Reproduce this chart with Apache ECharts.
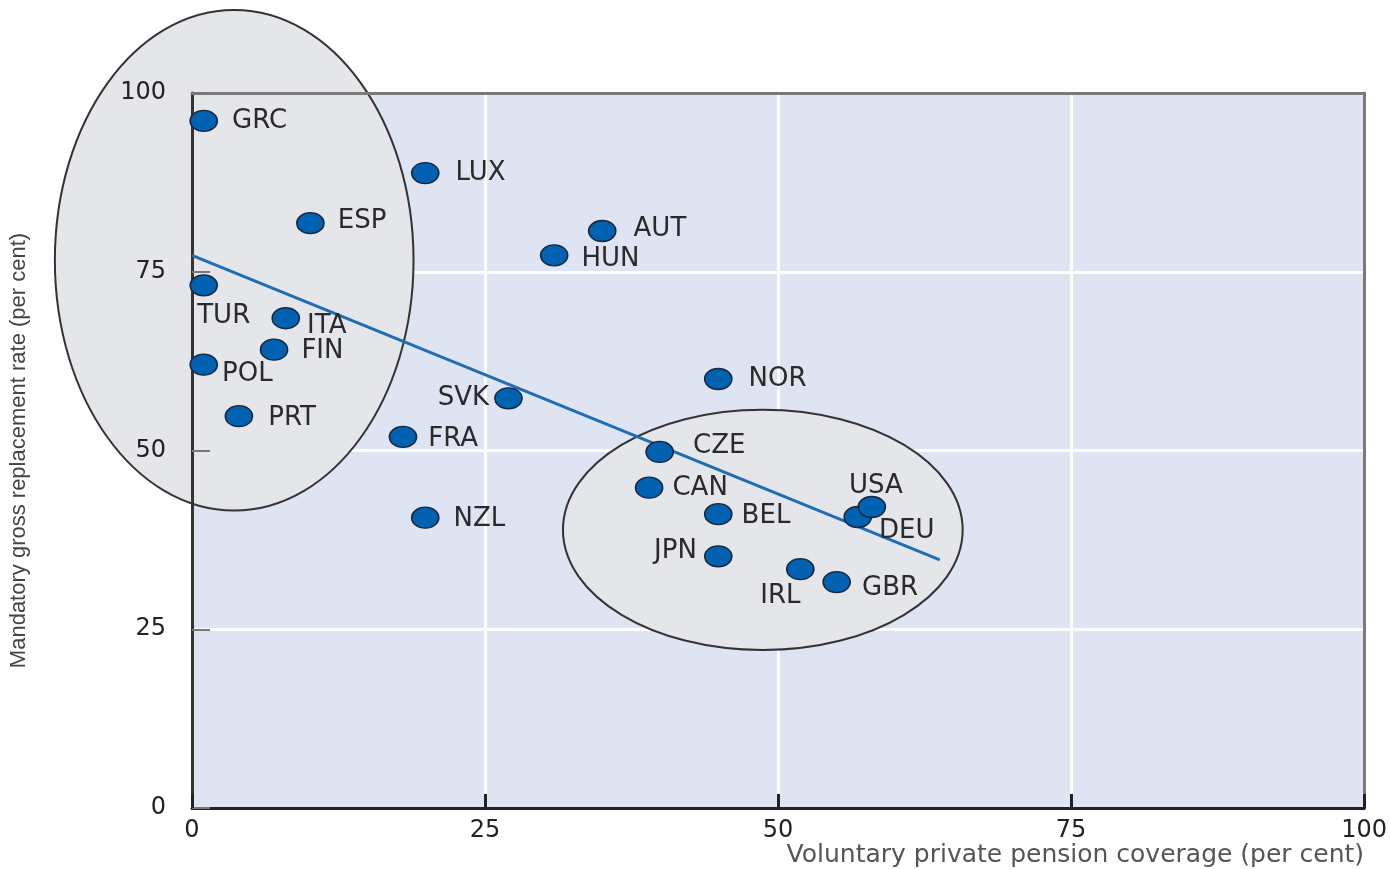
<!DOCTYPE html>
<html>
<head>
<meta charset="utf-8">
<script src="https://cdn.jsdelivr.net/npm/echarts@6/dist/echarts.min.js"></script>
<style>html,body{margin:0;padding:0;background:#fff}#c{width:1390px;height:869px}</style>
</head>
<body>
<div id="c"></div>
<script>
// Data
const countries = ['GRC','LUX','ESP','AUT','HUN','TUR','ITA','FIN','POL','PRT','SVK','FRA','NOR','NZL','CZE','CAN','BEL','JPN','IRL','GBR','DEU','USA'];
const coverage  = [1.0, 19.9, 10.1, 35.0, 30.9, 1.0, 8.0, 7.0, 1.0, 4.0, 27.0, 18.0, 44.9, 19.9, 39.9, 39.0, 44.9, 44.9, 51.9, 55.0, 56.8, 58.0];
const replacement = [96.1, 88.8, 81.8, 80.7, 77.3, 73.1, 68.5, 64.1, 62.0, 54.8, 57.3, 51.9, 60.0, 40.6, 49.8, 44.8, 41.1, 35.2, 33.4, 31.6, 40.7, 42.1];
const trendX = [0, 63.8];
const trendY = [77.3, 34.7];
// ellipses: [centerX, centerY, radiusX, radiusY] in data units
const ellipseLeft  = [3.6, 76.6, 15.3, 35.0];
const ellipseRight = [48.7, 38.9, 17.05, 16.8];
const xTicks = [0, 25, 50, 75, 100];
const yTicks = [0, 25, 50, 75, 100];

// label placement (style only)
const labelPlace = {
  GRC:['right',[9,0]], LUX:['right',[11,0]], ESP:['right',[8,-2]], AUT:['right',[12,-2]],
  HUN:['right',[8,4]], TUR:['bottom',[20,2]], ITA:['right',[2,8]], FIN:['right',[8,2]],
  POL:['right',[-1,10]], PRT:['right',[10,2]], SVK:['left',[0,0]], FRA:['right',[6,2]],
  NOR:['right',[11,0]], NZL:['right',[9,2]], CZE:['right',[14,-6]], CAN:['right',[4,1]],
  BEL:['right',[4,2]], JPN:['left',[-2,-5]], IRL:['bottom',[-20,-2]], GBR:['right',[6,6]],
  DEU:['right',[2,14]], USA:['top',[4,8]]
};

const pts = countries.map((c,i)=>{
  const p = labelPlace[c];
  return {value:[coverage[i], replacement[i]], name:c, label:{position:p[0], offset:p[1]}};
});

const chart = echarts.init(document.getElementById('c'), null, {renderer:'canvas'});
const font = 'DejaVu Sans, Verdana, sans-serif';
const fontNarrow = 'Liberation Sans, Arial, sans-serif';

function ellipseRender(params, api){
  const c = api.coord([api.value(0), api.value(1)]);
  const s = api.size([api.value(2), api.value(3)]);
  return {
    type:'ellipse',
    shape:{cx:c[0], cy:c[1], rx:s[0], ry:s[1]},
    style:{fill:'#e5e6ea', stroke:'#333', lineWidth:2}
  };
}

const hidden = {axisLine:{show:false}, axisTick:{show:false}, axisLabel:{show:false}};

chart.setOption({
  animation:false,
  backgroundColor:'#ffffff',
  grid:{left:192, right:25, top:93, bottom:61, show:true, backgroundColor:'#dfe4f2', borderWidth:0, containLabel:false},
  xAxis:[
    Object.assign({type:'value', min:0, max:100, interval:25, position:'bottom', z:0,
      splitLine:{show:true, lineStyle:{color:'#ffffff', width:3}}}, hidden),
    {type:'value', min:0, max:100, interval:25, position:'bottom', z:5,
      axisLine:{show:true, onZero:false, lineStyle:{color:'#222', width:3}},
      axisTick:{show:true, inside:true, length:14, lineStyle:{color:'#222', width:3}},
      axisLabel:{color:'#222', fontSize:24, fontFamily:font, margin:11, formatter:v=>xTicks.includes(v)?String(v):''},
      splitLine:{show:false},
      name:'Voluntary private pension coverage (per cent)',
      nameLocation:'end', nameGap:0,
      nameTextStyle:{color:'#555', fontSize:25, fontFamily:font, align:'right', verticalAlign:'top', padding:[35,0,0,0]}
    },
    {type:'value', min:0, max:100, interval:25, position:'top', z:5,
      axisLine:{show:true, onZero:false, lineStyle:{color:'#7a7a7a', width:3}},
      axisTick:{show:false}, axisLabel:{show:false}, splitLine:{show:false}}
  ],
  yAxis:[
    Object.assign({type:'value', min:0, max:100, interval:25, position:'left', z:0,
      splitLine:{show:true, lineStyle:{color:'#ffffff', width:3}}}, hidden),
    {type:'value', min:0, max:100, interval:25, position:'left', z:5,
      axisLine:{show:true, onZero:false, lineStyle:{color:'#333', width:3}},
      axisTick:{show:true, inside:true, length:18, lineStyle:{color:'#777', width:2}},
      axisLabel:{color:'#222', fontSize:24, fontFamily:font, margin:26, formatter:v=>yTicks.includes(v)?String(v):''},
      splitLine:{show:false},
      name:'Mandatory gross replacement rate (per cent)',
      nameLocation:'middle', nameGap:162, nameRotate:90,
      nameTextStyle:{color:'#444', fontSize:22, fontFamily:fontNarrow}
    },
    {type:'value', min:0, max:100, interval:25, position:'right', z:5,
      axisLine:{show:true, onZero:false, lineStyle:{color:'#7a7a7a', width:3}},
      axisTick:{show:false}, axisLabel:{show:false}, splitLine:{show:false}}
  ],
  series:[
    {type:'custom', clip:false, renderItem:ellipseRender, data:[ellipseLeft, ellipseRight], z:1, silent:true, xAxisIndex:0, yAxisIndex:0},
    {type:'line', data:trendX.map((x,i)=>[x, trendY[i]]), showSymbol:false, lineStyle:{color:'#1f6db5', width:3}, z:6, silent:true, xAxisIndex:0, yAxisIndex:0},
    {type:'scatter', data:pts, symbol:'circle', symbolSize:[27,21], xAxisIndex:0, yAxisIndex:0,
      itemStyle:{color:'#0062b1', borderColor:'#1b2640', borderWidth:1.5, opacity:1},
      label:{show:true, formatter:p=>p.name, color:'#2a2a2a', fontSize:26, fontFamily:font, distance:5},
      z:7}
  ]
});
</script>
</body>
</html>
